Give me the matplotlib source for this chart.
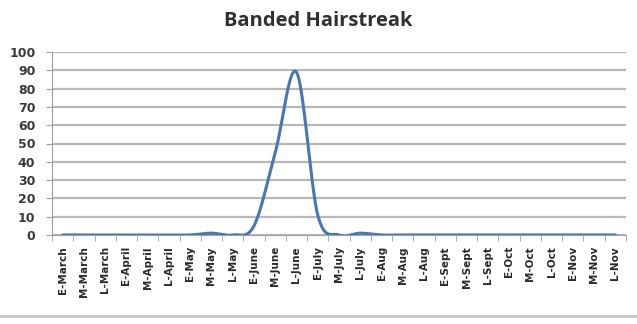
import matplotlib
matplotlib.use('Agg')
import matplotlib.pyplot as plt
import numpy as np

periods = ['E-March', 'M-March', 'L-March', 'E-April', 'M-April', 'L-April',
           'E-May', 'M-May', 'L-May', 'E-June', 'M-June', 'L-June',
           'E-July', 'M-July', 'L-July', 'E-Aug', 'M-Aug', 'L-Aug',
           'E-Sept', 'M-Sept', 'L-Sept', 'E-Oct', 'M-Oct', 'L-Oct',
           'E-Nov', 'M-Nov', 'L-Nov']
counts = [0, 0, 0, 0, 0, 0, 0, 1, 0, 5, 45, 89, 11, 0, 1,
          0, 0, 0, 0, 0, 0, 0, 0, 0, 0, 0, 0]
yticks = [0, 10, 20, 30, 40, 50, 60, 70, 80, 90, 100]


def smooth(x, y, n=20):
    # catmull-rom, roughly what Excel's "smoothed line" does
    x = np.asarray(x, float)
    y = np.asarray(y, float)
    px = np.concatenate([[x[0]], x, [x[-1]]])
    py = np.concatenate([[y[0]], y, [y[-1]]])
    xs, ys = [], []
    for i in range(1, len(px) - 2):
        t = np.linspace(0, 1, n, endpoint=False)
        for p, out in ((px, xs), (py, ys)):
            p0, p1, p2, p3 = p[i - 1], p[i], p[i + 1], p[i + 2]
            out.extend(0.5 * ((2 * p1) + (-p0 + p2) * t
                              + (2 * p0 - 5 * p1 + 4 * p2 - p3) * t ** 2
                              + (-p0 + 3 * p1 - 3 * p2 + p3) * t ** 3))
    xs.append(x[-1])
    ys.append(y[-1])
    return np.array(xs), np.array(ys)


fig = plt.figure(figsize=(6.37, 3.24), dpi=100)
ax = fig.add_axes([52 / 637, (324 - 235) / 324, 574 / 637, 183 / 324])

x = np.arange(len(periods))
sx, sy = smooth(x, counts)
ax.plot(sx, sy, color='#4a76b0', lw=2.2, solid_capstyle='round', zorder=3)

ax.set_xlim(-0.5, len(periods) - 0.5)
ax.set_ylim(0, 100)
ax.set_yticks(yticks)
ax.set_yticklabels([str(v) for v in yticks], fontsize=9, fontweight='bold', color='#3a3a3a')
ax.set_xticks(x)
ax.set_xticklabels(periods, rotation=90, fontsize=7.5, fontweight='bold', color='#2a2a2a')
ax.set_xticks(np.arange(-0.5, len(periods)), minor=True)
ax.tick_params(axis='x', which='major', length=0, pad=8)
ax.tick_params(axis='x', which='minor', length=4, color='#a0a0a0')
ax.tick_params(axis='y', length=4, color='#a0a0a0', pad=8)
ax.grid(axis='y', color='#b8b8b8', lw=1.6)
ax.set_axisbelow(True)
for s in ['top', 'right']:
    ax.spines[s].set_visible(False)
ax.spines['left'].set_color('#a0a0a0')
ax.spines['bottom'].set_color('#a0a0a0')

fig.text(0.5, 0.935, 'Banded Hairstreak', ha='center', va='center',
         fontsize=14.5, fontweight='bold', color='#303030', family='Open Sans')
fig.add_artist(plt.Line2D([0, 1], [(324 - 316) / 324] * 2, color='#c8c8c8', lw=2))

fig.savefig('out.png', dpi=100)
